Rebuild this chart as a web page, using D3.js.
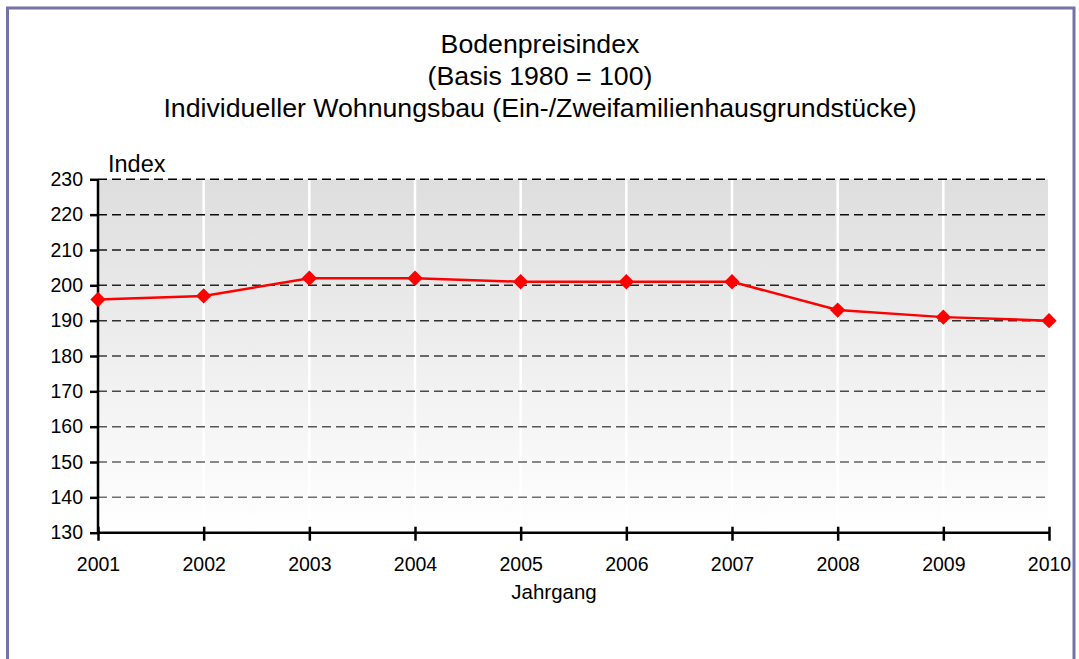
<!DOCTYPE html>
<html>
<head>
<meta charset="utf-8">
<script src="https://cdn.jsdelivr.net/npm/d3@7"></script>
<style>
  body { margin: 0; background: #fff; }
  svg text { font-family: "Liberation Sans", Arial, sans-serif; fill: #000; }
  .axis path, .axis line { stroke: #000; stroke-width: 2.5; }
  .axis text { font-size: 19.5px; }
</style>
</head>
<body>
<div id="chart"></div>
<script>
// chart data
const years = ['2001', '2002', '2003', '2004', '2005', '2006', '2007', '2008', '2009', '2010'];
const indexValues = [196, 197, 202, 202, 201, 201, 201, 193, 191, 190];
const yTicks = [130, 140, 150, 160, 170, 180, 190, 200, 210, 220, 230];
const titleLines = [
  'Bodenpreisindex',
  '(Basis 1980 = 100)',
  'Individueller Wohnungsbau (Ein-/Zweifamilienhausgrundstücke)'
];

/**
 * simple line chart with frame, gradient plot area and diamond markers
 */
class IndexChart {
  /**
   * constructor
   * @param {string} targetId html id
   * @param {array} dimensions width & height in pixels
   */
  constructor(targetId, dimensions) {
    this.target = targetId;
    this.w = dimensions[0];
    this.h = dimensions[1];

    // plot area
    this.left = 98;
    this.right = 1049;
    this.top = 179.3;
    this.bottom = 532.7;

    this.x = d3.scalePoint()
      .domain(years)
      .range([this.left, this.right]);

    this.y = d3.scaleLinear()
      .domain([130, 230])
      .range([this.bottom, this.top]);
  }

  /** draws everything */
  initialize() {
    let svg = d3.select(this.target)
      .append('svg')
      .attr('width', this.w)
      .attr('height', this.h);

    // outer frame, open at the bottom edge of the picture
    svg.append('rect')
      .attr('x', 7.5)
      .attr('y', 8)
      .attr('width', 1066.5)
      .attr('height', 680)
      .attr('fill', '#fff')
      .attr('stroke', '#7373a6')
      .attr('stroke-width', 3);

    let defs = svg.append('defs');
    let grad = defs.append('linearGradient')
      .attr('id', 'plotbg')
      .attr('x1', 0).attr('y1', 0)
      .attr('x2', 0).attr('y2', 1);
    grad.append('stop').attr('offset', '0%').attr('stop-color', '#dedede');
    grad.append('stop').attr('offset', '100%').attr('stop-color', '#ffffff');

    svg.append('rect')
      .attr('x', this.left)
      .attr('y', this.top)
      .attr('width', this.right - 1 - this.left)
      .attr('height', this.bottom - this.top)
      .attr('fill', 'url(#plotbg)');

    // vertical white grid lines
    svg.append('g')
      .selectAll('line')
      .data(years.slice(1, -1))
      .join('line')
      .attr('x1', d => this.x(d))
      .attr('x2', d => this.x(d))
      .attr('y1', this.top)
      .attr('y2', this.bottom)
      .attr('stroke', '#fff')
      .attr('stroke-width', 2.5);

    // horizontal dashed grid lines, darker at the top
    let shade = d3.scaleLinear()
      .domain([230, 140])
      .range(['#000', '#6e6e6e']);
    svg.append('g')
      .selectAll('line')
      .data(yTicks.slice(1))
      .join('line')
      .attr('x1', this.left)
      .attr('x2', this.right - 2)
      .attr('y1', d => this.y(d))
      .attr('y2', d => this.y(d))
      .attr('stroke', d => shade(d))
      .attr('stroke-width', 1.5)
      .attr('stroke-dasharray', '9,5');

    // axes
    let yAxis = svg.append('g')
      .attr('class', 'axis')
      .attr('transform', 'translate(' + this.left + ',0)')
      .call(d3.axisLeft(this.y)
        .tickValues(yTicks)
        .tickSize(8)
        .tickSizeOuter(0)
        .tickPadding(7));

    let xAxis = svg.append('g')
      .attr('class', 'axis')
      .attr('transform', 'translate(0,' + this.bottom + ')')
      .call(d3.axisBottom(this.x)
        .tickSize(8)
        .tickSizeOuter(0)
        .tickPadding(16));
    xAxis.selectAll('.tick line').attr('y1', -6);
    xAxis.select('.domain').attr('d', 'M' + this.left + ',0H' + this.right);
    yAxis.select('.domain').attr('d', 'M0,' + this.top + 'V' + (this.bottom + 1));

    // series
    let line = d3.line()
      .x((d, i) => this.x(years[i]))
      .y(d => this.y(d));

    svg.append('path')
      .datum(indexValues)
      .attr('d', line)
      .attr('fill', 'none')
      .attr('stroke', '#ff0000')
      .attr('stroke-width', 2.5);

    svg.append('g')
      .selectAll('path')
      .data(indexValues)
      .join('path')
      .attr('d', d3.symbol(d3.symbolDiamond2, 150))
      .attr('transform', (d, i) => 'translate(' + this.x(years[i]) + ',' + this.y(d) + ')')
      .attr('fill', '#ff0000');

    // titles
    let title = svg.append('text')
      .attr('text-anchor', 'middle')
      .attr('font-size', '26.7px');
    title.selectAll('tspan')
      .data(titleLines)
      .join('tspan')
      .attr('x', 540)
      .attr('y', (d, i) => 53 + i * 32)
      .text(d => d);

    svg.append('text')
      .attr('x', 108)
      .attr('y', 172)
      .attr('font-size', '23.5px')
      .text('Index');

    svg.append('text')
      .attr('x', 554)
      .attr('y', 599)
      .attr('text-anchor', 'middle')
      .attr('font-size', '20.5px')
      .text('Jahrgang');
  }
}

let chart = new IndexChart('#chart', [1079, 659]);
chart.initialize();
</script>
</body>
</html>
